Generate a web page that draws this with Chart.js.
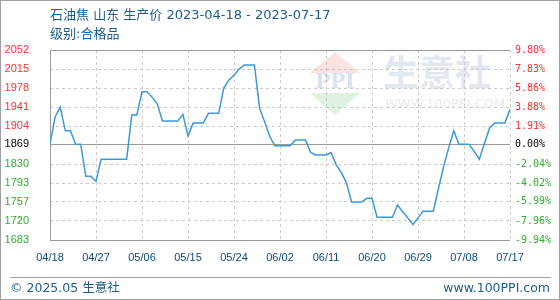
<!DOCTYPE html>
<html>
<head>
<meta charset="utf-8">
<script src="https://cdn.jsdelivr.net/npm/chart.js@4.4.1/dist/chart.umd.min.js"></script>
<style>
  body { margin: 0; background: #fff; }
  #wrap { position: relative; width: 560px; height: 300px; background: #fff; }
  #chart { position: absolute; left: 0; top: 0; }
  .txt { position: absolute; white-space: nowrap; font-family: "DejaVu Sans", "Noto Sans CJK SC", sans-serif; color: #1c5d8f; }
  .title { font-size: 13px; line-height: 16px; }
  .foot { font-size: 12.5px; line-height: 16px; }
  #hr { position: absolute; left: 10px; top: 277px; width: 541px; height: 1px; background: #a0a0a0; }
  #frame { position: absolute; left: 0; top: 0; width: 560px; height: 300px; box-sizing: border-box; border: 1px solid #a0a0a0; pointer-events: none; }
</style>
</head>
<body>
<div id="wrap">
  <canvas id="chart" width="560" height="300"></canvas>
  <div class="txt title" style="left:50px;top:7px">石油焦 山东 生产价 2023-04-18 - 2023-07-17</div>
  <div class="txt title" style="left:50px;top:26px">级别:合格品</div>
  <div id="hr"></div>
  <div class="txt foot" style="left:10px;top:280px">© 2025.05 生意社</div>
  <div class="txt foot" style="right:10px;top:280px">www.100PPI.com</div>
  <div id="frame"></div>
</div>
<script>
// 数据 (04/18 起每日价格)
const xTickLabels = ['04/18', '04/27', '05/06', '05/15', '05/24', '06/02', '06/11', '06/20', '06/29', '07/08', '07/17'];
const prices = [
  1869, 1922, 1941, 1895, 1895, 1869, 1869, 1807, 1807, 1797,
  1840, 1840, 1840, 1840, 1840, 1840, 1926, 1926, 1971, 1971,
  1960, 1947, 1914, 1914, 1914, 1914, 1927, 1885, 1910, 1910,
  1910, 1929, 1929, 1929, 1978, 1994, 2003, 2015, 2023, 2023,
  2023, 1939, 1912, 1884, 1866, 1866, 1866, 1866, 1877, 1877,
  1877, 1853, 1848, 1848, 1848, 1853, 1829, 1814, 1794, 1757,
  1757, 1757, 1764, 1764, 1727, 1727, 1727, 1727, 1751, 1738,
  1726, 1713, 1726, 1739, 1739, 1739, 1783, 1825, 1862, 1895,
  1869, 1869, 1869, 1855, 1840, 1871, 1900, 1910, 1910, 1910,
  1937
];
const yTicks = [1683, 1720, 1757, 1793, 1830, 1869, 1904, 1941, 1978, 2015, 2052];
const pctLabels = ['-9.94%', '-7.96%', '-5.99%', '-4.02%', '-2.04%', '0.00%', '1.91%', '3.88%', '5.86%', '7.83%', '9.80%'];
const basePrice = 1869;

function tickColor(ctx) {
  const v = ctx.tick.value;
  if (v > basePrice) return '#ff3030';
  if (v < basePrice) return '#2fb02f';
  return '#000';
}

// 水印 + 边框 + 基准线
const decor = {
  id: 'decor',
  beforeDatasetsDraw(chart) {
    const c = chart.ctx;
    const a = chart.chartArea;
    c.save();
    c.fillStyle = 'rgba(240,160,150,0.3)';
    c.beginPath(); c.moveTo(335, 52); c.lineTo(360, 73); c.lineTo(310, 73); c.closePath(); c.fill();
    c.fillStyle = 'rgba(150,210,150,0.3)';
    c.beginPath(); c.moveTo(310, 93); c.lineTo(360, 93); c.lineTo(335, 115); c.closePath(); c.fill();
    c.fillStyle = 'rgba(150,170,210,0.35)';
    c.font = 'bold 20px "DejaVu Serif", serif';
    c.textAlign = 'center'; c.textBaseline = 'middle';
    c.fillText('PPI', 335, 83);
    c.fillStyle = 'rgba(185,195,215,0.4)';
    c.font = 'bold 36px "Noto Sans CJK SC", sans-serif';
    c.textAlign = 'left';
    c.fillText('生意社', 383, 72);
    c.fillStyle = 'rgba(200,200,200,0.4)';
    c.font = '13px "DejaVu Sans", sans-serif';
    c.fillText('WWW.100PPI.COM', 385, 105);

    const y0 = Math.round(chart.scales.y.getPixelForValue(basePrice)) + 0.5;
    c.strokeStyle = '#999';
    c.lineWidth = 1;
    c.beginPath();
    c.moveTo(a.left, y0); c.lineTo(a.right, y0);
    c.moveTo(Math.round(a.left) + 0.5, a.top); c.lineTo(Math.round(a.left) + 0.5, a.bottom);
    c.moveTo(a.left, Math.round(a.top) + 0.5); c.lineTo(a.right, Math.round(a.top) + 0.5);
    c.moveTo(a.left, Math.round(a.bottom) + 0.5); c.lineTo(a.right, Math.round(a.bottom) + 0.5);
    c.stroke();
    c.restore();
  }
};

const ctx = document.getElementById('chart').getContext('2d');
new Chart(ctx, {
  type: 'line',
  data: {
    datasets: [{
      data: prices.map((v, i) => ({ x: i, y: v })),
      borderColor: '#3a9ad8',
      borderWidth: 1.5,
      pointRadius: 0,
      fill: false,
      tension: 0
    }]
  },
  options: {
    responsive: false,
    animation: false,
    layout: { padding: { top: 50, left: 0, right: 0, bottom: 0 } },
    plugins: { legend: { display: false }, tooltip: { enabled: false } },
    scales: {
      x: {
        type: 'linear',
        min: 0,
        max: 90,
        afterFit(scale) { scale.height = 60; },
        ticks: {
          stepSize: 9,
          autoSkip: false,
          maxRotation: 0,
          padding: 11,
          color: '#0e4a7c',
          font: { family: 'Liberation Sans', size: 11 },
          callback: (v) => xTickLabels[Math.round(v / 9)]
        },
        grid: { color: '#cccccc', drawTicks: false },
        border: { display: false, dash: [3, 3] }
      },
      y: {
        min: 1683,
        max: 2052,
        afterFit(scale) { scale.width = 50; },
        afterBuildTicks(scale) { scale.ticks = yTicks.map(v => ({ value: v })); },
        ticks: {
          padding: 21,
          color: tickColor,
          font: { family: 'Liberation Sans', size: 11 },
          callback: (v) => String(v)
        },
        grid: { color: '#cccccc', drawTicks: false },
        border: { display: false, dash: [3, 3] }
      },
      y2: {
        position: 'right',
        min: 1683,
        max: 2052,
        afterFit(scale) { scale.width = 50; },
        afterBuildTicks(scale) { scale.ticks = yTicks.map(v => ({ value: v })); },
        ticks: {
          padding: 5,
          color: tickColor,
          font: { family: 'DejaVu Sans Mono', size: 10 },
          callback: (v, i) => pctLabels[i]
        },
        grid: { display: false, drawTicks: false },
        border: { display: false }
      }
    }
  },
  plugins: [decor]
});
</script>
</body>
</html>
